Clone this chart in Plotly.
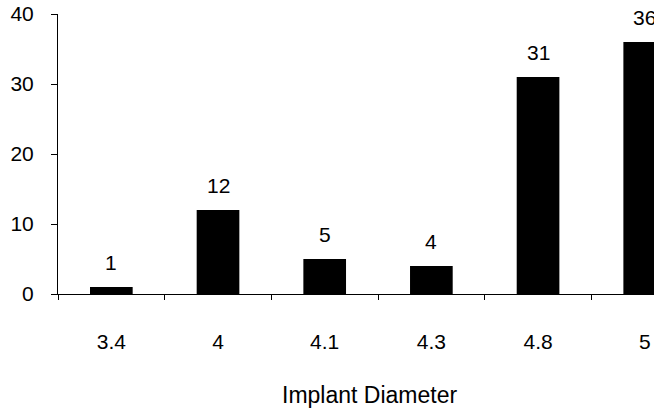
import plotly.graph_objects as go

categories = ["3.4", "4", "4.1", "4.3", "4.8", "5"]
counts = [1, 12, 5, 4, 31, 36]
y_ticks = [0, 10, 20, 30, 40]
x_title = "Implant Diameter"

FONT = "Liberation Sans, Arial, sans-serif"

fig = go.Figure()
fig.add_trace(go.Bar(
    x=categories, y=counts,
    marker=dict(color="#000000", line=dict(width=0)),
    showlegend=False,
))

for i, v in enumerate(counts):
    fig.add_annotation(
        x=i, y=v, xref="x", yref="y", text=str(v), showarrow=False,
        yanchor="bottom", yshift=11,
        font=dict(family=FONT, size=21, color="#000000"),
    )

fig.add_annotation(
    x=0.522, y=-0.36, xref="paper", yref="paper", text=x_title,
    showarrow=False, xanchor="center", yanchor="middle",
    font=dict(family=FONT, size=23, color="#000000"),
)

fig.update_layout(
    width=654, height=415,
    margin=dict(l=58, r=0, t=14, b=121),
    plot_bgcolor="white", paper_bgcolor="white",
    bargap=0.6,
    font=dict(family=FONT, size=21, color="#000000"),
)
fig.update_xaxes(
    type="category",
    range=[-0.5, 5.087],
    showline=True, linecolor="#000000", linewidth=1,
    ticks="outside", tickson="boundaries", ticklen=5, tickcolor="#000000",
    showgrid=False, zeroline=False,
    ticklabelstandoff=29,
    tickfont=dict(family=FONT, size=21, color="#000000"),
)
fig.update_yaxes(
    range=[0, 40], tickvals=y_ticks,
    showline=True, linecolor="#000000", linewidth=1,
    ticks="outside", ticklen=6, tickcolor="#000000",
    showgrid=False, zeroline=False,
    ticklabelstandoff=13,
    tickfont=dict(family=FONT, size=21, color="#000000"),
)

fig.write_html("out.html")
